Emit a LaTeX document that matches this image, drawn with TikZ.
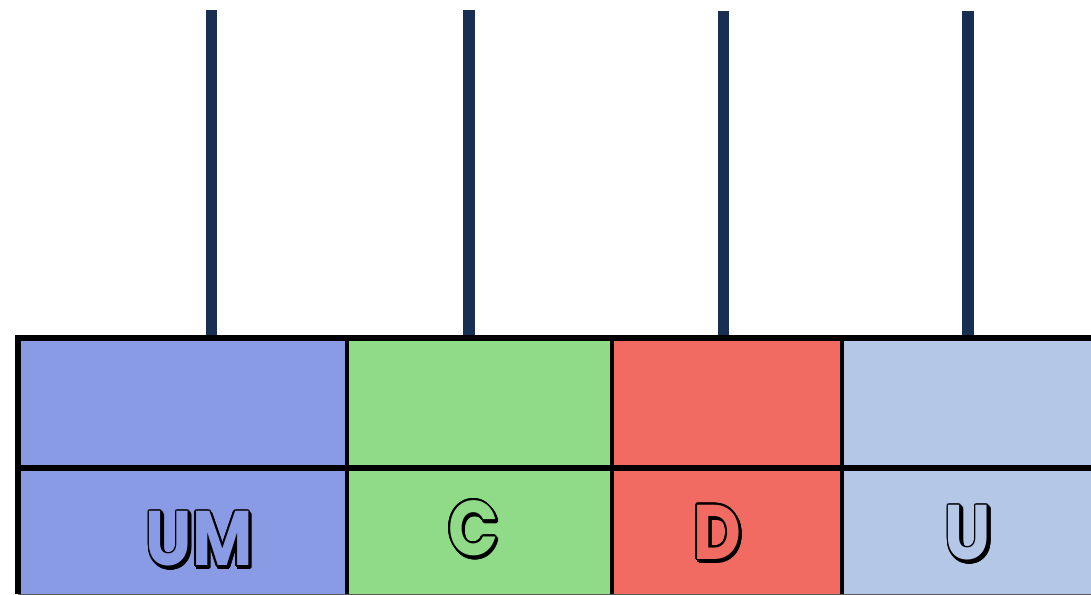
\documentclass[tikz,border=0pt]{standalone}
\usepackage{fontspec}
\usepackage[copies]{contour}
\newfontfamily\cartoon{Poppins}
\definecolor{rod}{RGB}{24,46,82}
\definecolor{cblue}{RGB}{138,155,230}
\definecolor{cgreen}{RGB}{143,219,135}
\definecolor{cred}{RGB}{242,107,99}
\definecolor{clight}{RGB}{180,199,231}
\contourlength{1.3pt}
\newcommand{\cartoonlabel}[2]{%
  \begin{tikzpicture}[baseline]
    \node[inner sep=0pt] at (1.6pt,-1.6pt) {\contour{black}{\textcolor{black}{#2}}};
    \node[inner sep=0pt] at (0,0) {\contour{black}{\textcolor{#1}{#2}}};
  \end{tikzpicture}}
\tikzset{
  rodline/.style={line width=8.5pt, rod},
  border/.style={line width=4.5pt, black},
  sep/.style={line width=3pt, black},
  lbl/.style={inner sep=0pt, font=\cartoon\bfseries\fontsize{58}{58}\selectfont, xscale=0.85},
}
\begin{document}
\begin{tikzpicture}[x=0.75pt,y=-0.75pt]
\useasboundingbox (0,0) rectangle (1091,595);
% cells
\fill[cblue]  (18,338) rectangle (347,594);
\fill[cgreen] (347,338) rectangle (611,594);
\fill[cred]   (611,338) rectangle (842,594);
\fill[clight] (842,338) rectangle (1091,594);
% rods
\coordinate (r1t) at (211.5,10); \coordinate (r1b) at (211.5,338);
\coordinate (r2t) at (469,10);   \coordinate (r2b) at (469,338);
\coordinate (r3t) at (723.5,11); \coordinate (r3b) at (723.5,338);
\coordinate (r4t) at (968,11);   \coordinate (r4b) at (968,338);
\draw[rodline] (r1t) -- (r1b);
\draw[rodline] (r2t) -- (r2b);
\draw[rodline] (r3t) -- (r3b);
\draw[rodline] (r4t) -- (r4b);
% grid lines
\draw[sep] (347,335) -- (347,594);
\draw[sep] (611.5,335) -- (611.5,594);
\draw[sep] (842,338) -- (842,594);
\draw[border] (18,594) -- (18,338) -- (1091,338);
\draw[border] (18,468) -- (1091,468);
\draw[line width=1pt, gray!70!black] (18,594.5) -- (1091,594.5);
% labels
\node[lbl] (um) at (200,541) {\cartoonlabel{cblue}{UM}};
\node[lbl] (c)  at (474,530) {\cartoonlabel{cgreen}{C}};
\node[lbl] (d)  at (718,534) {\cartoonlabel{cred}{D}};
\node[lbl] (u)  at (969,535) {\cartoonlabel{clight}{U}};
\end{tikzpicture}
\end{document}
